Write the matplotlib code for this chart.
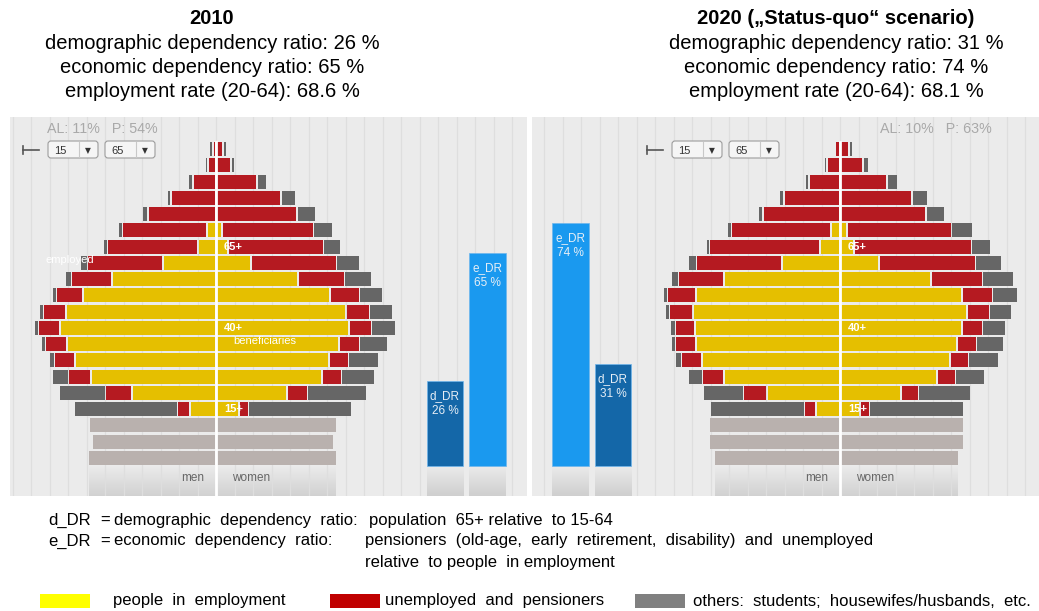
import numpy as np
import matplotlib.pyplot as plt
from matplotlib.patches import FancyBboxPatch, Rectangle
from matplotlib.colors import LinearSegmentedColormap

plt.rcParams['font.family'] = ['Liberation Sans', 'DejaVu Sans']

W, H = 1039, 611

# ---------------------------------------------------------------
# DATA (widths in thousands of persons, read off the pyramids)
# working-age rows top-down: 95+, 90-94, ..., 20-24, 15-19
# ---------------------------------------------------------------
ages_top = ["95+", "90-94", "85-89", "80-84", "75-79", "70-74", "65-69",
            "60-64", "55-59", "50-54", "45-49", "40-44", "35-39", "30-34",
            "25-29", "20-24", "15-19"]
kids_top = ["10-14", "5-9", "0-4"]

# 2010
men_emp_10 = [0, 0, 0, 0, 0, 7, 16, 51, 102, 131, 148, 154, 147, 139, 123, 82, 24]
men_pen_10 = [1, 6, 21, 43, 66, 83, 89, 74, 39, 25, 21, 20, 20, 19, 21, 25, 11]
men_oth_10 = [2, 1, 3, 2.5, 4, 3, 3, 6, 5, 3, 3, 3, 3, 4, 15, 45, 102]
wom_emp_10 = [0, 0, 0, 0, 0, 4, 10, 33, 80, 112, 128, 131, 121, 111, 104, 69, 21]
wom_pen_10 = [5, 13, 39, 63, 79, 90, 94, 84, 45, 28, 22, 21, 19, 18, 18, 19, 8]
wom_oth_10 = [2, 2.5, 8, 13, 17, 18, 16, 22, 26, 22, 22, 23, 27, 29, 32, 58, 102]
men_kid_10 = [125, 122, 126]
wom_kid_10 = [119, 116, 119]

# 2020 ("status-quo" scenario)
men_emp_20 = [0, 0, 0, 0, 0, 7, 18, 56, 114, 142, 145, 143, 142, 136, 114, 71, 22]
men_pen_20 = [3, 11, 29, 54, 75, 98, 109, 84, 44, 27, 22, 18, 19, 19, 20, 22, 10]
men_oth_20 = [0, 1, 2.5, 3, 3, 3, 2, 7, 6, 3, 3, 4, 3, 5, 13, 39, 93]
wom_emp_20 = [0, 0, 0, 0, 0, 5, 12, 37, 89, 120, 125, 120, 115, 108, 95, 59, 18]
wom_pen_20 = [7, 21, 45, 70, 84, 103, 116, 95, 50, 29, 21, 19, 18, 17, 17, 16, 8]
wom_oth_20 = [2, 4, 9, 14, 17, 20, 18, 25, 30, 24, 21, 22, 26, 29, 28, 51, 93]
men_kid_20 = [129, 129, 124]
wom_kid_20 = [122, 122, 117]

# dependency ratios (%)
dr_names_10 = ["d_DR", "e_DR"]
dr_vals_10 = [26, 65]
dr_names_20 = ["e_DR", "d_DR"]
dr_vals_20 = [74, 31]

title_10 = ["2010",
            "demographic dependency ratio: 26 %",
            "economic dependency ratio: 65 %",
            "employment rate (20-64): 68.6 %"]
title_20 = ["2020 (\u201eStatus-quo\u201c scenario)",
            "demographic dependency ratio: 31 %",
            "economic dependency ratio: 74 %",
            "employment rate (20-64): 68.1 %"]
al_p_10 = "AL: 11%   P: 54%"
al_p_20 = "AL: 10%   P: 63%"

# ---------------------------------------------------------------
# STYLE
# ---------------------------------------------------------------
YELLOW = "#e5bf00"
RED = "#b51a21"
GREY = "#666666"
BEIGE = "#b9b1ae"
PANEL = "#ebebeb"
GRIDC = "#dedede"
DR_COL = {"d_DR": "#1467a8", "e_DR": "#1a99ef"}

BAR_H = 0.86
SEG_GAP = 1.7
CENTER_GAP = 1.0
GRID_STEP = 18.5

fig = plt.figure(figsize=(W / 100, H / 100), dpi=100)
fig.patch.set_facecolor("white")


def px_axes(x0, y0, x1, y1):
    return fig.add_axes([x0 / W, 1 - y1 / H, (x1 - x0) / W, (y1 - y0) / H])


def clean(ax):
    ax.set_xticks([])
    ax.set_yticks([])
    for s in ax.spines.values():
        s.set_visible(False)


fade = LinearSegmentedColormap.from_list("fade", ["#cfcfcf", PANEL])


def draw_pyramid(ax, men, wom, men_kid, wom_kid, xlim):
    n = len(men[0])
    rows = np.arange(n + 3)[::-1]
    ylim = (-2.34, 20.97)
    ax.set_facecolor(PANEL)
    clean(ax)
    # vertical grid
    g = np.arange(-20, 21) * GRID_STEP
    for gx in g[(g > xlim[0]) & (g < xlim[1])]:
        ax.axvline(gx, color=GRIDC, lw=0.9, zorder=0.8)
    for sign, parts, kid in ((-1, men, men_kid), (1, wom, wom_kid)):
        start = np.full(n, CENTER_GAP)
        for vals, col in zip(parts, (YELLOW, RED, GREY)):
            vals = np.asarray(vals, float)
            ax.barh(rows[:n], sign * vals, left=sign * start, height=BAR_H,
                    color=col, zorder=2)
            start = start + np.where(vals > 0, vals + SEG_GAP, 0)
        kid = np.asarray(kid, float)
        ax.barh(rows[n:], sign * kid, left=sign * CENTER_GAP, height=BAR_H,
                color=BEIGE, zorder=2)
        # reflection under the youngest row
        ax.imshow(np.linspace(0, 1, 50).reshape(-1, 1), cmap=fade, aspect="auto",
                  extent=(0, sign * (kid[-1] + CENTER_GAP), -0.5, ylim[0]),
                  zorder=0.5, alpha=0.9)
    ax.plot([0, 0], [ylim[0], rows[0] + BAR_H / 2], color="white", lw=2, zorder=3)
    ax.set_xlim(*xlim)
    ax.set_ylim(*ylim)
    for lab, k in (("65+", 13), ("40+", 8), ("15+", 3)):
        ax.text(8, k, lab, color="white", fontsize=8, fontweight="bold",
                va="center", ha="left", zorder=4)
    ax.text(-12, -1.23, "men", color="#666666", fontsize=8.5, ha="right", va="center")
    ax.text(16, -1.23, "women", color="#666666", fontsize=8.5, ha="left", va="center")


ax_l = px_axes(10, 117, 527, 496)
draw_pyramid(ax_l, (men_emp_10, men_pen_10, men_oth_10),
             (wom_emp_10, wom_pen_10, wom_oth_10), men_kid_10, wom_kid_10, (-206, 311))
ax_l.text(-171, 12.2, "employed", color="white", fontsize=8, va="center", zorder=4)
ax_l.text(17, 7.2, "beneficiaries", color="white", fontsize=8, va="center", zorder=4)
ax_l.text(-169, 20.25, al_p_10, color="#a9a9a9", fontsize=10.3, va="center")

ax_r = px_axes(532, 117, 1039, 496)
draw_pyramid(ax_r, (men_emp_20, men_pen_20, men_oth_20),
             (wom_emp_20, wom_pen_20, wom_oth_20), men_kid_20, wom_kid_20, (-308, 199))
ax_r.text(40, 20.25, al_p_20, color="#a9a9a9", fontsize=10.3, va="center")


def draw_dr(ax, names, vals, xlim):
    ax.patch.set_alpha(0)
    clean(ax)
    ylim = (-9.15, 106.4)
    x = np.arange(len(vals))
    cols = [DR_COL[nm] for nm in names]
    ax.bar(x, vals, width=0.85, color=cols, edgecolor="#6fb6ec", lw=0.5, zorder=2)
    for xi, nm, v in zip(x, names, vals):
        ax.text(xi, v - 2.8, f"{nm}\n{v} %", color="#e6eef6", fontsize=8.5,
                ha="center", va="top", linespacing=1.3, zorder=3)
        ax.imshow(np.linspace(0, 1, 50).reshape(-1, 1), cmap=fade, aspect="auto",
                  extent=(xi - 0.425, xi + 0.425, 0, ylim[0]), zorder=1)
    ax.set_xlim(*xlim)
    ax.set_ylim(*ylim)


draw_dr(px_axes(415, 117, 520, 496), dr_names_10, dr_vals_10, (-0.706, 1.765))
draw_dr(px_axes(535, 117, 650, 496), dr_names_20, dr_vals_20, (-0.835, 1.871))

# ---------------------------------------------------------------
# overlay in pixel coordinates: titles, widgets, notes, legend
# ---------------------------------------------------------------
ov = fig.add_axes([0, 0, 1, 1])
ov.set_xlim(0, W)
ov.set_ylim(H, 0)
ov.axis("off")
ov.patch.set_alpha(0)

for cx, lines in ((212, title_10), (836, title_20)):
    for i, t in enumerate(lines):
        ov.text(cx, 19 + 24.3 * i, t, fontsize=14.5, ha="center", va="center",
                fontweight="bold" if i == 0 else "normal", color="black")


def widget(x0):
    ov.plot([x0, x0 + 16], [150, 150], color="#555555", lw=1.2)
    ov.plot([x0, x0], [146, 154], color="#555555", lw=1.2)
    for bx, lab in ((x0 + 25, "15"), (x0 + 82, "65")):
        ov.add_patch(FancyBboxPatch((bx, 141), 50, 17,
                                    boxstyle="round,pad=0,rounding_size=3",
                                    fc="#f5f5f5", ec="#9c9c9c", lw=0.8))
        ov.text(bx + 6, 150.5, lab, fontsize=8, color="#333333", va="center")
        ov.plot([bx + 31, bx + 31], [142, 157], color="#c8c8c8", lw=0.8)
        ov.text(bx + 40, 150.5, "\u25bc", fontsize=5.5, color="#333333",
                ha="center", va="center", family="DejaVu Sans")


widget(23)
widget(647)

note_fs = 12
ov.text(48, 520, "d_DR", fontsize=note_fs, va="center")
ov.text(100, 520, "=", fontsize=note_fs, va="center")
ov.text(114, 520, "demographic  dependency  ratio:", fontsize=note_fs, va="center")
ov.text(369, 520, "population  65+ relative  to 15-64", fontsize=note_fs, va="center")
ov.text(48, 541, "e_DR", fontsize=note_fs, va="center")
ov.text(100, 541, "=", fontsize=note_fs, va="center")
ov.text(114, 541, "economic  dependency  ratio:", fontsize=note_fs, va="center")
ov.text(365, 541, "pensioners  (old-age,  early  retirement,  disability)  and  unemployed",
        fontsize=note_fs, va="center")
ov.text(365, 562, "relative  to people  in employment", fontsize=note_fs, va="center")

legend_items = [("#ffff00", "people  in  employment", 40, 113),
                ("#c00000", "unemployed  and  pensioners", 330, 385),
                ("#808080", "others:  students;  housewifes/husbands,  etc.", 635, 693)]
for col, lab, rx, tx in legend_items:
    ov.add_patch(Rectangle((rx, 594), 50, 14, fc=col, ec="none"))
    ov.text(tx, 601, lab, fontsize=note_fs, va="center")

fig.savefig("out.png", dpi=100, facecolor="white")
